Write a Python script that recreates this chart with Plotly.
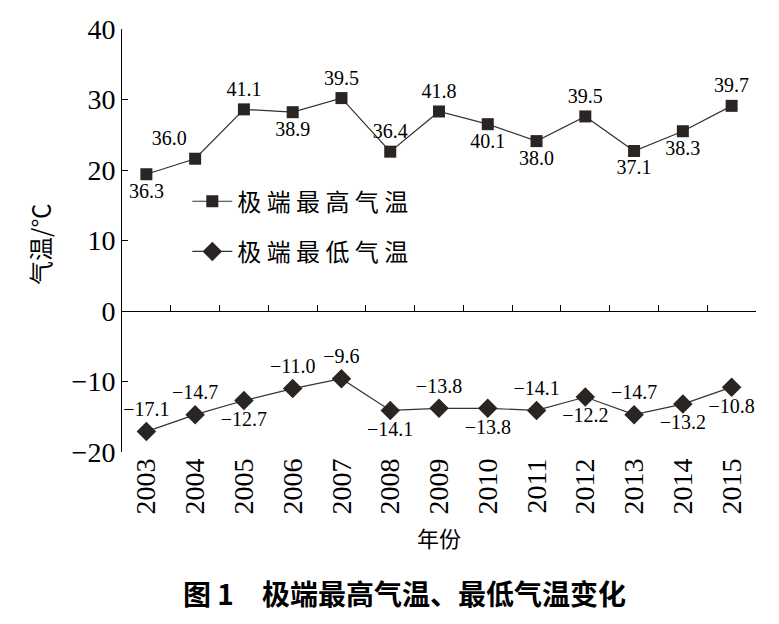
import plotly.graph_objects as go

years = [str(y) for y in range(2003, 2016)]

# plotted positions of the high-temperature series (as drawn in the figure)
high_pos = [19.4, 21.6, 28.6, 28.2, 30.2, 22.6, 28.3, 26.5, 24.1, 27.6, 22.7, 25.5, 29.1]
# printed labels of the high-temperature series
high_labels = [36.3, 36.0, 41.1, 38.9, 39.5, 36.4, 41.8, 40.1, 38.0, 39.5, 37.1, 38.3, 39.7]
low_vals = [-17.1, -14.7, -12.7, -11.0, -9.6, -14.1, -13.8, -13.8, -14.1, -12.2, -14.7, -13.2, -10.8]

y_range = [-20, 40]

high_textpos = ["bottom center", "top left", "top center", "bottom center", "top center",
                "top center", "top center", "bottom center", "bottom center", "top center",
                "bottom center", "bottom center", "top center"]
low_textpos = ["top center", "top center", "bottom center", "top center", "top center",
               "bottom center", "top center", "bottom center", "top center", "bottom center",
               "top center", "bottom center", "bottom center"]

serif = "Liberation Serif"
cjk = "Noto Sans CJK SC"
ink = "#2a2523"


def fmt(v):
    return f"{v:.1f}".replace("-", "\u2212")


fig = go.Figure()
fig.add_trace(go.Scatter(
    x=years, y=high_pos, mode="lines+markers+text",
    name=" ".join("极端最高气温"),
    text=[fmt(v) for v in high_labels], textposition=high_textpos,
    textfont=dict(family=serif, size=20, color="black"),
    line=dict(color="#333333", width=1.2),
    marker=dict(symbol="square", size=12, color=ink),
    legendgroup="a"))
fig.add_trace(go.Scatter(
    x=years, y=low_vals, mode="lines+markers+text",
    name=" ".join("极端最低气温"),
    text=[fmt(v) for v in low_vals], textposition=low_textpos,
    textfont=dict(family=serif, size=20, color="black"),
    line=dict(color="#333333", width=1.2),
    marker=dict(symbol="diamond", size=15, color=ink),
    legendgroup="b"))

# page body has an 8px margin, so the figure is a bit smaller than the window
fig.update_layout(
    width=771, height=608,
    margin=dict(l=114, r=23, t=21, b=164),
    plot_bgcolor="white", paper_bgcolor="white",
    font=dict(family=serif, color="black"),
    showlegend=True,
    legend=dict(x=0.103, y=0.645, xanchor="left", yanchor="top",
                font=dict(family=cjk, size=24, color="black"),
                bgcolor="rgba(0,0,0,0)", tracegroupgap=16,
                itemsizing="trace", itemwidth=40),
    xaxis=dict(type="category", categoryarray=years, range=[-0.5, len(years) - 0.5],
               showline=False, ticks="", tickangle=-90, automargin=False,
               tickfont=dict(family=serif, size=28),
               title=dict(text="年份", font=dict(family=cjk, size=22), standoff=18)),
    xaxis2=dict(overlaying="x", anchor="free",
                position=(0 - y_range[0]) / (y_range[1] - y_range[0]),
                range=[-0.5, len(years) - 0.5],
                tickvals=[i + 0.5 for i in range(len(years))],
                ticks="inside", ticklen=6, tickcolor="black",
                showticklabels=False, showline=True, linecolor="black",
                linewidth=1, showgrid=False, zeroline=False, automargin=False),
    yaxis=dict(range=y_range, dtick=10, ticks="inside", ticklen=6,
               tickcolor="black", showline=True, linecolor="black",
               showgrid=False, zeroline=False, automargin=False,
               tickfont=dict(family=serif, size=28)),
    annotations=[
        dict(text="气温/℃", textangle=-90, x=-0.129, y=0.49, xref="paper", yref="paper",
             xanchor="center", yanchor="middle",
             showarrow=False, font=dict(family=cjk, size=24)),
        dict(text="<b>图 1　极端最高气温、最低气温变化</b>", x=0.445, y=-0.334,
             xref="paper", yref="paper", xanchor="center", yanchor="middle",
             showarrow=False, font=dict(family=cjk, size=28)),
    ],
)
fig.add_trace(go.Scatter(x=[None], y=[None], xaxis="x2", showlegend=False, hoverinfo="skip"))

fig.write_html("out.html")
